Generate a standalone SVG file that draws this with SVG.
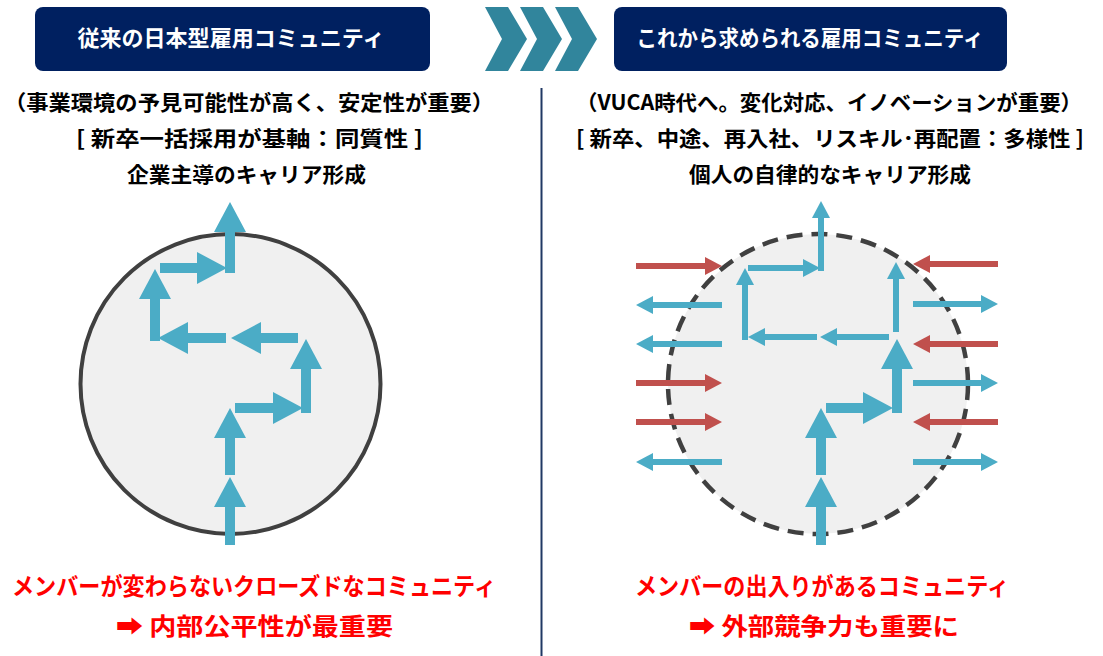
<svg xmlns="http://www.w3.org/2000/svg" width="1103" height="656" viewBox="0 0 1103 656">
<style>
text{font-family:"Noto Sans CJK JP","Noto Sans CJK SC",sans-serif;font-weight:700;text-anchor:middle}
.hdr{fill:#002060}
.hdrt{fill:#ffffff;font-size:22px}
.sub{fill:#000000;font-size:21px}
.red{fill:#ff0000;font-size:24px}
.chev{fill:#31859c}
.circ{fill:#f0f0f0;stroke:#404040;stroke-width:4}
.dash{stroke-dasharray:16 9;stroke-width:4.5}
.thick{stroke:#4bacc6;stroke-width:10;fill:none;marker-end:url(#hThick)}
.thinb{stroke:#4bacc6;stroke-width:6;fill:none;marker-end:url(#hThinB)}
.thinr{stroke:#c0504d;stroke-width:6;fill:none;marker-end:url(#hThinR)}
</style>
<defs>
<marker id="hThick" markerUnits="userSpaceOnUse" markerWidth="30" markerHeight="32" viewBox="0 0 30 32" refX="0" refY="16" orient="auto"><path d="M0,0 L30,16 L0,32 Z" fill="#4bacc6"/></marker>
<marker id="hThinB" markerUnits="userSpaceOnUse" markerWidth="17" markerHeight="18" viewBox="0 0 17 18" refX="0" refY="9" orient="auto"><path d="M0,0 L17,9 L0,18 Z" fill="#4bacc6"/></marker>
<marker id="hThinR" markerUnits="userSpaceOnUse" markerWidth="17" markerHeight="18" viewBox="0 0 17 18" refX="0" refY="9" orient="auto"><path d="M0,0 L17,9 L0,18 Z" fill="#c0504d"/></marker>
</defs>
<rect width="1103" height="656" fill="#ffffff"/>

<g id="header-left">
<rect class="hdr" x="35" y="7" width="395" height="64" rx="8"/>
<text class="hdrt" x="231" y="46" textLength="307" lengthAdjust="spacingAndGlyphs">従来の日本型雇用コミュニティ</text>
</g>
<g id="chevrons">
<polygon class="chev" points="485,7 508,7 527,39 508,71 485,71 502,39"/>
<polygon class="chev" points="520,7 543,7 562,39 543,71 520,71 537,39"/>
<polygon class="chev" points="555,7 578,7 597,39 578,71 555,71 572,39"/>
</g>
<g id="header-right">
<rect class="hdr" x="614" y="7" width="393" height="64" rx="8"/>
<text class="hdrt" x="810" y="46" textLength="347" lengthAdjust="spacingAndGlyphs">これから求められる雇用コミュニティ</text>
</g>

<g id="divider">
<line x1="541.5" y1="88" x2="541.5" y2="656" stroke="#203864" stroke-width="2"/>
</g>

<g id="text-left">
<text class="sub" x="249" y="110" textLength="490" lengthAdjust="spacingAndGlyphs">（事業環境の予見可能性が高く、安定性が重要）</text>
<text class="sub" x="249.5" y="146" textLength="347" lengthAdjust="spacingAndGlyphs">[ 新卒一括採用が基軸：同質性 ]</text>
<text class="sub" x="246.5" y="182" textLength="239" lengthAdjust="spacingAndGlyphs">企業主導のキャリア形成</text>
</g>
<g id="text-right">
<text class="sub" x="829" y="110" textLength="506" lengthAdjust="spacingAndGlyphs">（VUCA時代へ。変化対応、イノベーションが重要）</text>
<text class="sub" x="830" y="146" textLength="508" lengthAdjust="spacingAndGlyphs">[ 新卒、中途、再入社、リスキル･再配置：多様性 ]</text>
<text class="sub" x="830" y="182" textLength="282" lengthAdjust="spacingAndGlyphs">個人の自律的なキャリア形成</text>
</g>

<g id="circle-left">
<circle class="circ" cx="230.5" cy="384" r="150"/>
</g>
<g id="circle-right">
<circle class="circ dash" cx="818" cy="384" r="150"/>
</g>

<g id="connectors">
<!-- left circle path -->
<line class="thick" x1="230" y1="545" x2="230" y2="507"/>
<line class="thick" x1="230" y1="475" x2="230" y2="438"/>
<line class="thick" x1="235" y1="408" x2="273" y2="408"/>
<line class="thick" x1="306" y1="413" x2="306" y2="369"/>
<line class="thick" x1="298" y1="338" x2="261" y2="338"/>
<line class="thick" x1="226" y1="338" x2="188" y2="338"/>
<line class="thick" x1="155" y1="341" x2="155" y2="299"/>
<line class="thick" x1="160" y1="268" x2="197" y2="268"/>
<line class="thick" x1="230" y1="273" x2="230" y2="232"/>
<!-- right circle path -->
<line class="thick" x1="821" y1="545" x2="821" y2="507"/>
<line class="thick" x1="821" y1="475" x2="821" y2="438"/>
<line class="thick" x1="826" y1="408" x2="863" y2="408"/>
<line class="thick" x1="897" y1="413" x2="897" y2="369"/>
<line class="thinb" x1="896" y1="332" x2="896" y2="279"/>
<line class="thinb" x1="889" y1="337" x2="837" y2="337"/>
<line class="thinb" x1="817" y1="337" x2="765" y2="337"/>
<line class="thinb" x1="745" y1="340" x2="745" y2="285"/>
<line class="thinb" x1="748" y1="268" x2="803" y2="268"/>
<line class="thinb" x1="821" y1="271" x2="821" y2="218"/>
<!-- left side in/out -->
<line class="thinr" x1="636" y1="266" x2="705" y2="266"/>
<line class="thinb" x1="722" y1="305" x2="653" y2="305"/>
<line class="thinb" x1="722" y1="344" x2="653" y2="344"/>
<line class="thinr" x1="636" y1="383" x2="705" y2="383"/>
<line class="thinr" x1="636" y1="422" x2="705" y2="422"/>
<line class="thinb" x1="722" y1="462" x2="653" y2="462"/>
<!-- right side in/out -->
<line class="thinr" x1="998" y1="264" x2="930" y2="264"/>
<line class="thinb" x1="913" y1="304" x2="981" y2="304"/>
<line class="thinr" x1="998" y1="344" x2="930" y2="344"/>
<line class="thinb" x1="913" y1="383" x2="981" y2="383"/>
<line class="thinr" x1="998" y1="422" x2="930" y2="422"/>
<line class="thinb" x1="913" y1="462" x2="981" y2="462"/>
</g>

<g id="bottom-left">
<text class="red" x="254" y="595" textLength="484" lengthAdjust="spacingAndGlyphs">メンバーが変わらないクローズドなコミュニティ</text>
<text class="red" x="254.5" y="635" textLength="277" lengthAdjust="spacingAndGlyphs">➡ 内部公平性が最重要</text>
</g>
<g id="bottom-right">
<text class="red" x="822" y="595" textLength="374" lengthAdjust="spacingAndGlyphs">メンバーの出入りがあるコミュニティ</text>
<text class="red" x="824" y="635" textLength="270" lengthAdjust="spacingAndGlyphs">➡ 外部競争力も重要に</text>
</g>
</svg>
